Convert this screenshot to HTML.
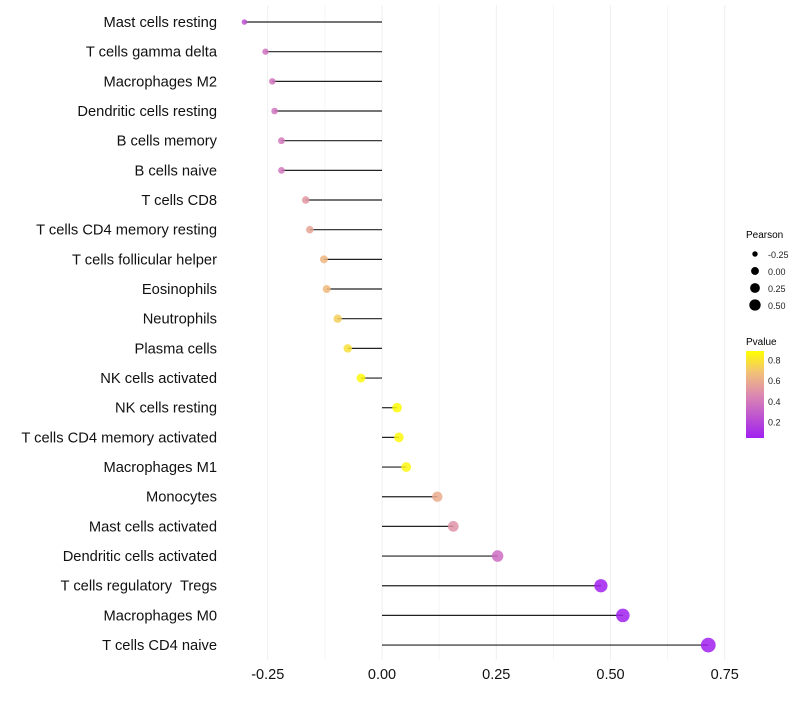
<!DOCTYPE html>
<html><head><meta charset="utf-8"><style>
body{margin:0;background:#fff;font-family:"Liberation Sans",sans-serif}
</style></head><body>
<svg id="chart" width="800" height="700" xmlns="http://www.w3.org/2000/svg" style="font-family:'Liberation Sans',sans-serif">
<defs><linearGradient id="pg" x1="0" y1="1" x2="0" y2="0">
<stop offset="0" stop-color="#A020F0"/><stop offset="0.5" stop-color="#DC8AB0"/><stop offset="0.75" stop-color="#F2C078"/><stop offset="1" stop-color="#FFFF00"/></linearGradient></defs>
<g id="grid"></g>
<g id="marks"></g>
<g id="labels"></g>
<g id="xticks"></g>
<g font-size="10">
<text x="746" y="238" fill="#000">Pearson</text>
<g id="sizeleg"></g>
</g>
<g font-size="10">
<text x="746" y="345" fill="#000">Pvalue</text>
<rect x="746" y="351" width="18" height="87" fill="url(#pg)"/>
<g id="colleg"></g>
</g>
</svg>
<script>
const categories=["Mast cells resting","T cells gamma delta","Macrophages M2","Dendritic cells resting","B cells memory","B cells naive","T cells CD8","T cells CD4 memory resting","T cells follicular helper","Eosinophils","Neutrophils","Plasma cells","NK cells activated","NK cells resting","T cells CD4 memory activated","Macrophages M1","Monocytes","Mast cells activated","Dendritic cells activated","T cells regulatory  Tregs","Macrophages M0","T cells CD4 naive"];
const pearson=[-0.301,-0.255,-0.24,-0.235,-0.22,-0.22,-0.167,-0.158,-0.127,-0.121,-0.097,-0.075,-0.046,0.033,0.037,0.053,0.121,0.156,0.253,0.479,0.527,0.714];
const pvalue=[0.25,0.38,0.38,0.38,0.4,0.4,0.52,0.57,0.64,0.66,0.73,0.79,0.87,0.88,0.87,0.86,0.6,0.5,0.35,0.05,0.04,0.03];
const xTicks=[-0.25,0,0.25,0.5,0.75];
const xTickLabels=["-0.25","0.00","0.25","0.50","0.75"];
const sizeLegend=[-0.25,0,0.25,0.5];
const sizeLegendLabels=["-0.25","0.00","0.25","0.50"];
const colorLegend=[0.2,0.4,0.6,0.8];
const colorLegendLabels=["0.2","0.4","0.6","0.8"];
const NS="http://www.w3.org/2000/svg";
const x=v=>382+v*457;
const y=i=>22+i*29.67;
const r=v=>Math.sqrt(Math.max(0.5,46*(v+0.47)));
const cy=p=>438-(p-0.05)/(0.89-0.05)*87;
function col(p){const t=Math.max(0,Math.min(1,(p-0.05)/0.84));
const st=[[0,[160,32,240]],[0.5,[220,138,176]],[0.75,[242,192,120]],[1,[255,255,0]]];
for(let k=1;k<st.length;k++){if(t<=st[k][0]){const a=st[k-1],b=st[k],f=(t-a[0])/(b[0]-a[0]);return "rgb("+a[1].map((c,j)=>Math.round(c+(b[1][j]-c)*f)).join(",")+")";}}return "rgb(255,255,0)";}
function mk(t,a,p){const e=document.createElementNS(NS,t);for(const k in a)e.setAttribute(k,a[k]);p.appendChild(e);return e;}
const grid=document.getElementById('grid'),marks=document.getElementById('marks'),labels=document.getElementById('labels'),xt=document.getElementById('xticks');
for(let v=-0.25;v<=0.751;v+=0.125){const g=mk('line',{x1:x(v),x2:x(v),y1:5,y2:660,stroke:'#ebebeb','stroke-width':Math.abs(v*8%2)<0.01?0.8:0.5},grid);

}
categories.forEach((c,i)=>{
const l=mk('line',{x1:x(0),x2:x(pearson[i]),y1:y(i),y2:y(i),stroke:'#222','stroke-width':1.2},marks);


const d=mk('circle',{cx:x(pearson[i]),cy:y(i),r:r(pearson[i]),fill:col(pvalue[i]),'fill-opacity':0.85},marks);


const t=mk('text',{x:217,y:y(i)+5,'text-anchor':'end','font-size':14.7,fill:'#111','xml:space':'preserve'},labels);t.style.whiteSpace='pre';t.textContent=c;

});
xTicks.forEach((v,i)=>{const t=mk('text',{x:x(v),y:679,'text-anchor':'middle','font-size':14.5,fill:'#111'},xt);t.textContent=xTickLabels[i];

});
const sl=document.getElementById('sizeleg');
sizeLegend.forEach((v,i)=>{const c=mk('circle',{cx:755,cy:254+i*17,r:r(v)*0.85,fill:'#000'},sl);


const t=mk('text',{x:768,y:258+i*17,'font-size':9,fill:'#222'},sl);t.textContent=sizeLegendLabels[i];

});
const cl=document.getElementById('colleg');
colorLegend.forEach((v,i)=>{const t=mk('text',{x:768,y:cy(v)+3,'font-size':9,fill:'#222'},cl);t.textContent=colorLegendLabels[i];

});
</script>
</body></html>
